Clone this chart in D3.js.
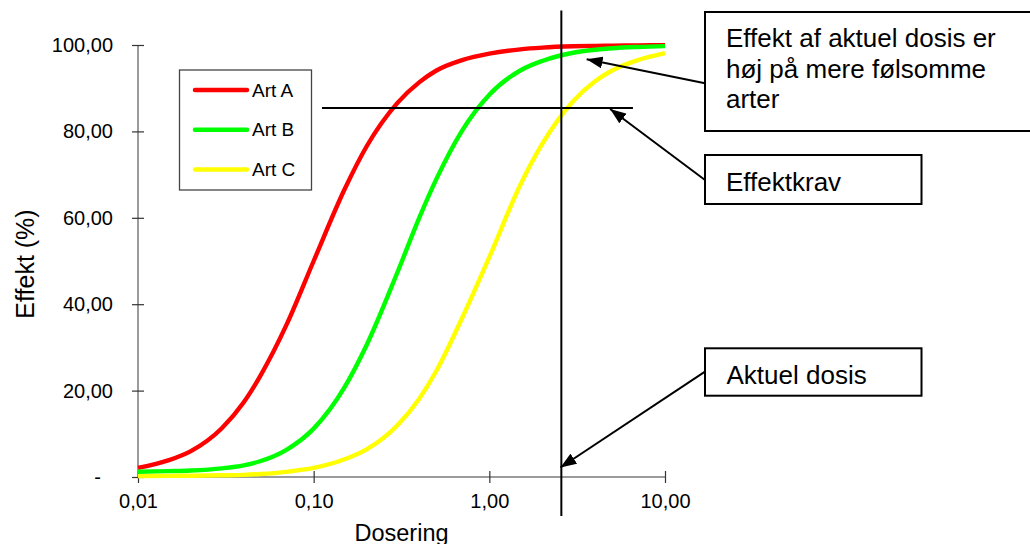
<!DOCTYPE html>
<html>
<head>
<meta charset="utf-8">
<script src="https://cdn.jsdelivr.net/npm/d3@7/dist/d3.min.js"></script>
<style>
  html, body { margin: 0; padding: 0; background: #fff; }
  svg { display: block; font-family: "Liberation Sans", Arial, sans-serif; }
</style>
</head>
<body>
<svg id="chart" width="1030" height="544"></svg>
<script>
// ---------- data ----------
const doses = [0.01, 0.015, 0.02, 0.03, 0.04, 0.05, 0.07, 0.1, 0.15, 0.2, 0.3, 0.4, 0.5, 0.7, 1, 1.5, 2, 3, 4, 5, 7, 10];
const artA = [2.1, 3.9, 6.0, 11.3, 17.3, 23.6, 35.2, 50.0, 66.6, 76.5, 86.6, 91.4, 94.1, 96.5, 98.0, 99.0, 99.4, 99.7, 99.8, 99.85, 99.9, 99.95];
const artB = [1.2, 1.35, 1.5, 2.0, 2.7, 3.7, 6.3, 11.2, 20.8, 30.5, 47.4, 60.1, 69.0, 80.2, 88.5, 94.1, 96.3, 98.2, 98.9, 99.25, 99.55, 99.75];
const artC = [0.2, 0.25, 0.3, 0.4, 0.5, 0.7, 1.2, 2.1, 4.1, 6.4, 12.0, 18.2, 24.6, 36.8, 50.9, 67.6, 77.1, 87.0, 91.6, 94.1, 96.5, 98.1];
const seriesNames = ["Art A", "Art B", "Art C"];
const seriesColors = ["#ff0000", "#00ff00", "#ffff00"];
const xTicks = [0.01, 0.1, 1, 10];
const yTicks = [0, 20, 40, 60, 80, 100];
const xTitle = "Dosering";
const yTitle = "Effekt (%)";

// reference lines
const aktuelDosis = 2.57;          // vertical line
const aktuelSpan = [-9, 108];      // y extent of vertical line (in % units)
const effektkrav = 85.4;           // horizontal line
const kravSpan = [0.1115, 6.57];   // x extent of horizontal line (dose)

// annotations: box text and arrow tip (data space)
const notes = [
  { lines: ["Effekt af aktuel dosis er", "høj på mere følsomme", "arter"], tip: [3.58, 96.7] },
  { lines: ["Effektkrav"], tip: [4.87, 85.2] },
  { lines: ["Aktuel dosis"], tip: [2.54, 2.2] }
];

// ---------- layout ----------
const svg = d3.select("#chart");
const x = d3.scaleLog().domain([0.01, 10]).range([138, 665]);
const y = d3.scaleLinear().domain([0, 100]).range([477, 45]);
const axisColor = "#7a7a7a";
const fmt = v => v.toFixed(2).replace(".", ",");

// y axis
const gy = svg.append("g").attr("transform", `translate(${x(0.01)},0)`)
  .call(d3.axisLeft(y).tickValues(yTicks).tickSize(6).tickPadding(19)
    .tickFormat(d => d === 0 ? "-" : fmt(d)));
gy.select(".domain").attr("stroke", axisColor).attr("stroke-width", 1.5).attr("d", `M0,${y(0)}V${y(100)}`);
gy.selectAll(".tick line").attr("stroke", "#333").attr("x1", -6).attr("x2", 6).attr("stroke-width", 1.2);
gy.selectAll(".tick text").attr("font-size", 20).attr("fill", "#000")
  .attr("font-family", "Liberation Sans, Arial, sans-serif")
  .attr("dx", d => d === 0 ? -12 : 0);

// x axis
const gx = svg.append("g").attr("transform", `translate(0,${y(0)})`)
  .call(d3.axisBottom(x).tickValues(xTicks).tickSize(6).tickFormat(fmt));
gx.select(".domain").attr("stroke", axisColor).attr("stroke-width", 1.5).attr("d", `M${x(0.01)},0H${x(10)}`);
gx.selectAll(".tick line").attr("stroke", "#333").attr("y1", -6).attr("y2", 6).attr("stroke-width", 1.2);
gx.selectAll(".tick text").attr("font-size", 20).attr("fill", "#000")
  .attr("font-family", "Liberation Sans, Arial, sans-serif")
  .attr("y", 31).attr("dy", null);

// axis titles
svg.append("text").attr("x", (x(0.01) + x(10)) / 2).attr("y", 541)
  .attr("text-anchor", "middle").attr("font-size", 23.5).text(xTitle);
svg.append("text").attr("transform", `translate(34,${(y(0) + y(100)) / 2 + 3}) rotate(-90)`)
  .attr("text-anchor", "middle").attr("font-size", 25).text(yTitle);

// curves
const line = d3.line().x(d => x(d[0])).y(d => y(d[1])).curve(d3.curveMonotoneX);
[artA, artB, artC].forEach((vals, i) => {
  svg.append("path")
    .datum(doses.map((d, j) => [d, vals[j]]))
    .attr("fill", "none").attr("stroke", seriesColors[i])
    .attr("stroke-width", 4.4).attr("stroke-linejoin", "round")
    .attr("d", line);
});

// reference lines
svg.append("line")
  .attr("x1", x(aktuelDosis)).attr("x2", x(aktuelDosis))
  .attr("y1", y(aktuelSpan[1])).attr("y2", y(aktuelSpan[0]))
  .attr("stroke", "#000").attr("stroke-width", 2);
svg.append("line")
  .attr("x1", x(kravSpan[0])).attr("x2", x(kravSpan[1]))
  .attr("y1", y(effektkrav)).attr("y2", y(effektkrav))
  .attr("stroke", "#000").attr("stroke-width", 2);

// legend
const lg = svg.append("g");
lg.append("rect").attr("x", 179.5).attr("y", 70).attr("width", 132).attr("height", 120)
  .attr("fill", "#fff").attr("stroke", "#444").attr("stroke-width", 1.3);
seriesNames.forEach((name, i) => {
  const cy = 90 + i * 39.7;
  lg.append("line").attr("x1", 195).attr("x2", 247).attr("y1", cy).attr("y2", cy)
    .attr("stroke", seriesColors[i]).attr("stroke-width", 4.5).attr("stroke-linecap", "round");
  lg.append("text").attr("x", 252).attr("y", cy).attr("dy", "0.35em")
    .attr("font-size", 19).text(name);
});

// annotation boxes
const boxes = [
  { x: 705, y: 12, w: 340, h: 119, tx: 726, baselines: [47, 77.5, 108], anchor: [705, 83.3] },
  { x: 705, y: 155, w: 216.5, h: 49, tx: 726, baselines: [191], anchor: [705, 180] },
  { x: 705, y: 348.3, w: 216.5, h: 47.4, tx: 726.5, baselines: [383.5], anchor: [705, 371.7] }
];
svg.append("defs").append("marker")
  .attr("id", "arrow").attr("viewBox", "0 0 16 12").attr("refX", 16).attr("refY", 6)
  .attr("markerWidth", 16).attr("markerHeight", 12).attr("markerUnits", "userSpaceOnUse")
  .attr("orient", "auto")
  .append("path").attr("d", "M0,0L16,6L0,12Z").attr("fill", "#000");

notes.forEach((n, i) => {
  const b = boxes[i];
  svg.append("line")
    .attr("x1", b.anchor[0]).attr("y1", b.anchor[1])
    .attr("x2", x(n.tip[0])).attr("y2", y(n.tip[1]))
    .attr("stroke", "#000").attr("stroke-width", 2)
    .attr("marker-end", "url(#arrow)");
  svg.append("rect").attr("x", b.x).attr("y", b.y).attr("width", b.w).attr("height", b.h)
    .attr("fill", "#fff").attr("stroke", "#000").attr("stroke-width", 2);
  n.lines.forEach((t, k) => {
    svg.append("text").attr("x", b.tx).attr("y", b.baselines[k])
      .attr("font-size", 26).text(t);
  });
});
</script>
</body>
</html>
